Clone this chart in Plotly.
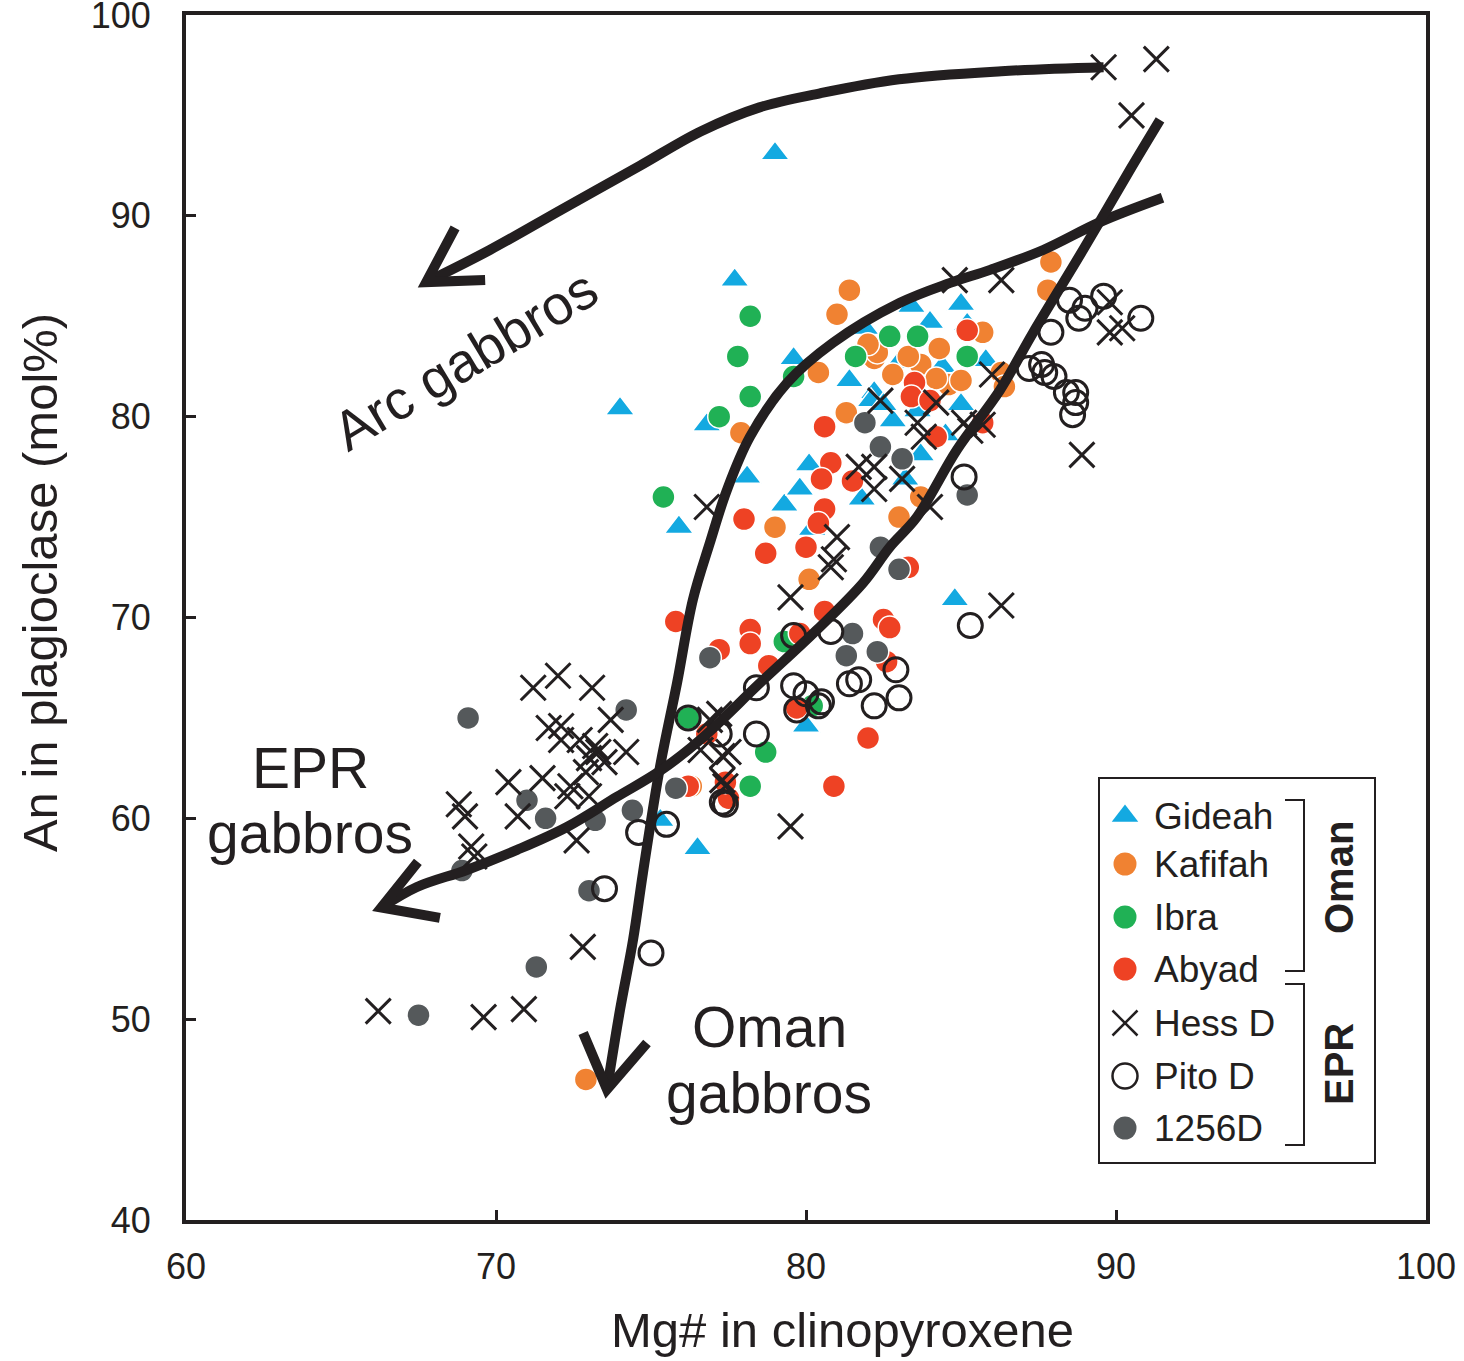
import plotly.graph_objects as go

# ---------------- data (Mg# cpx, An plag) ----------------
gideah_x = [79.0, 77.7, 74.0, 75.9, 76.5, 84.8, 80.0, 75.3, 76.8, 78.1, 79.3, 79.8, 80.1, 79.6, 81.4, 81.8,
            81.9, 83.4, 84.0, 85.0, 85.8, 85.0, 83.7, 83.2, 82.2, 83.0, 82.8, 84.4, 85.2, 82.1, 82.5, 83.6, 84.5, 80.2]
gideah_y = [93.1, 86.8, 80.4, 74.5, 58.5, 70.9, 64.6, 59.9, 79.6, 77.0, 75.6, 76.4, 77.6, 82.9, 81.8, 75.9,
            84.4, 85.5, 84.7, 85.6, 82.8, 80.6, 78.1, 76.9, 81.2, 82.7, 79.8, 82.5, 84.6, 80.8, 80.6, 80.3, 79.1, 74.4]

kafifah_x = [81.4, 81.0, 77.9, 79.0, 80.1, 72.9, 87.9, 87.8, 86.3, 86.4, 85.7, 80.4, 81.3, 83.0, 83.7, 76.3,
             82.2, 82.8, 83.7, 84.3, 84.6, 84.2, 85.0, 82.3, 83.3, 82.0]
kafifah_y = [86.3, 85.1, 79.2, 74.5, 71.9, 47.0, 87.7, 86.3, 82.2, 81.5, 84.2, 82.2, 80.2, 75.0, 76.0, 61.6,
             82.9, 82.1, 82.6, 83.4, 81.6, 81.9, 81.8, 83.2, 83.0, 83.6]

ibra_x = [78.2, 77.8, 78.2, 77.2, 75.4, 79.6, 81.6, 82.7, 83.6, 85.2, 76.2, 78.7, 78.2, 79.3, 80.2]
ibra_y = [85.0, 83.0, 81.0, 80.0, 76.0, 82.0, 83.0, 84.0, 84.0, 83.0, 65.0, 63.3, 61.6, 68.8, 65.6]

abyad_x = [85.2, 83.5, 83.4, 84.0, 84.2, 81.5, 80.6, 80.8, 80.5, 80.6, 80.4, 80.0, 78.0, 78.7, 75.8, 78.2,
           78.2, 77.2, 78.8, 79.8, 80.6, 82.5, 82.7, 83.3, 82.6, 82.0, 80.9, 76.2, 77.5, 79.7, 76.8, 85.7, 77.4]
abyad_y = [84.3, 81.7, 81.0, 80.8, 79.0, 76.8, 79.5, 77.7, 76.9, 75.4, 74.7, 73.5, 74.9, 73.2, 69.8, 69.4,
           68.7, 68.4, 67.6, 69.2, 70.3, 69.9, 69.5, 72.5, 67.8, 64.0, 61.6, 61.6, 61.0, 65.5, 64.2, 79.7, 61.8]

d1256_x = [69.1, 74.2, 76.9, 81.9, 82.4, 83.1, 85.2, 82.4, 83.0, 81.5, 81.3, 82.3, 75.8, 74.4, 71.6, 71.0,
           73.2, 73.0, 71.3, 67.5, 68.9]
d1256_y = [65.0, 65.4, 68.0, 79.7, 78.5, 77.9, 76.1, 73.5, 72.4, 69.2, 68.1, 68.3, 61.5, 60.4, 60.0, 60.9,
           59.9, 56.4, 52.6, 50.2, 57.4]

pito_x = [89.6, 90.8, 88.8, 87.9, 87.2, 87.6, 87.7, 88.0, 88.4, 88.7, 88.7, 88.6, 88.5, 89.0, 85.1, 85.3,
          79.6, 80.8, 78.4, 79.6, 80.0, 80.5, 80.4, 79.7, 81.4, 81.7, 82.9, 83.0, 82.2, 76.2, 77.2, 78.4,
          74.6, 75.5, 77.3, 73.5, 75.0, 77.4]
pito_y = [86.0, 84.9, 84.9, 84.2, 82.4, 82.6, 82.2, 82.0, 81.2, 81.2, 80.7, 80.1, 85.8, 85.4, 77.0, 69.6,
          69.1, 69.3, 66.5, 66.6, 66.2, 65.8, 65.6, 65.4, 66.7, 66.9, 67.4, 66.0, 65.6, 65.0, 64.2, 64.2,
          59.3, 59.7, 60.8, 56.5, 53.3, 60.7]

hess_x = [89.6, 91.3, 90.5, 84.8, 86.3, 89.8, 89.8, 90.2, 88.9, 86.0, 85.7, 85.3, 82.4, 83.6, 84.2, 83.8,
          85.1, 81.7, 82.2, 82.2, 83.1, 84.0, 76.8, 81.0, 80.9, 80.8, 79.5, 86.3, 77.2, 76.9, 77.5, 77.3,
          77.4, 79.5, 72.0, 73.1, 73.7, 72.1, 72.7, 73.3, 74.2, 72.1, 72.9, 72.4, 73.0, 72.6, 76.6, 77.3,
          71.2, 71.7, 70.4, 71.5, 72.3, 70.7, 68.8, 69.0, 69.2, 69.3, 66.2, 69.6, 70.9, 72.8, 73.0, 73.5, 73.2]
hess_y = [97.4, 97.8, 95.0, 86.8, 86.8, 85.7, 84.2, 84.4, 78.1, 82.1, 79.6, 79.3, 80.8, 79.7, 80.7, 79.0,
          79.7, 77.5, 77.5, 76.4, 76.9, 75.5, 75.5, 74.0, 72.9, 72.5, 71.0, 70.6, 65.2, 64.9, 63.3, 61.9,
          61.6, 59.6, 67.1, 66.5, 64.9, 64.6, 63.9, 63.3, 63.3, 63.9, 62.3, 61.6, 61.1, 58.9, 63.4, 63.1,
          66.5, 64.5, 61.8, 62.0, 61.1, 60.1, 60.7, 60.1, 58.6, 58.1, 50.4, 50.1, 50.5, 53.6, 63.0, 62.8, 63.6]

# ---------------- trend arrows (hand-drawn guides) ----------------
arc_x = [89.6, 86.3, 83.0, 80.45, 78.5, 76.6, 74.65, 72.1, 69.8, 67.75]
arc_y = [97.4, 97.2, 96.8, 96.1, 95.4, 94.2, 92.5, 90.3, 88.3, 86.7]
arc_head_x = [68.68, 67.75, 69.65]
arc_head_y = [89.4, 86.7, 86.8]

oman_x = [91.5, 89.5, 87.65, 85.94, 84.65, 83.03, 80.87, 79.39, 78.19, 77.45, 76.9, 76.35, 75.84, 75.29,
          74.74, 74.42, 74.0, 73.58]
oman_y = [90.9, 89.7, 88.3, 87.31, 86.66, 85.67, 83.68, 81.68, 78.99, 76.35, 73.72, 70.88, 66.74, 62.56,
          57.28, 53.94, 50.46, 46.5]
oman_head_x = [72.81, 73.58, 74.87]
oman_head_y = [49.31, 46.5, 48.81]

epr_x = [91.42, 90.45, 88.94, 87.32, 86.26, 84.87, 83.58, 82.71, 81.84, 80.35, 78.52, 76.58, 75.29, 73.9,
         72.29, 70.68, 69.06, 67.45, 66.3]
epr_y = [94.78, 92.29, 88.31, 84.17, 81.33, 78.35, 75.01, 73.52, 71.72, 69.38, 66.74, 63.9, 62.36, 61.07,
         59.57, 58.43, 57.43, 56.58, 55.56]
epr_head_x = [67.48, 66.3, 68.19]
epr_head_y = [57.83, 55.56, 55.04]

INK = "#231f20"
FONT = "Arial, 'Liberation Sans', sans-serif"
C_GID, C_KAF, C_IBR, C_ABY, C_125 = "#13a9e1", "#f08232", "#20b155", "#ee4224", "#55595b"

fig = go.Figure()

def filled(x, y, color, symbol, size, name):
    fig.add_trace(go.Scatter(x=x, y=y, mode="markers", name=name, showlegend=False,
                             marker=dict(symbol=symbol, size=size, color=color,
                                         line=dict(color="white", width=1.5))))

filled(gideah_x, gideah_y, C_GID, "triangle-up", 25, "Gideah")
filled(kafifah_x, kafifah_y, C_KAF, "circle", 23, "Kafifah")
filled(ibra_x, ibra_y, C_IBR, "circle", 23, "Ibra")
filled(abyad_x, abyad_y, C_ABY, "circle", 23, "Abyad")
filled(d1256_x, d1256_y, C_125, "circle", 23, "1256D")
fig.add_trace(go.Scatter(x=pito_x, y=pito_y, mode="markers", name="Pito D", showlegend=False,
                         marker=dict(symbol="circle-open", size=24, color=INK, line=dict(color=INK, width=3))))
fig.add_trace(go.Scatter(x=hess_x, y=hess_y, mode="markers", name="Hess D", showlegend=False,
                         marker=dict(symbol="x-thin-open", size=25, color=INK, line=dict(color=INK, width=3))))

for cx, cy, shape in [(arc_x, arc_y, "spline"), (oman_x, oman_y, "spline"), (epr_x, epr_y, "spline"),
                      (arc_head_x, arc_head_y, "linear"), (oman_head_x, oman_head_y, "linear"),
                      (epr_head_x, epr_head_y, "linear")]:
    fig.add_trace(go.Scatter(x=cx, y=cy, mode="lines", showlegend=False, hoverinfo="skip",
                             line=dict(color=INK, width=10, shape=shape)))

# ---------------- custom legend in pixel space (x2/y2) ----------------
leg_rows = [816, 864, 917, 969, 1023, 1076, 1128]
leg_names = ["Gideah", "Kafifah", "Ibra", "Abyad", "Hess D", "Pito D", "1256D"]
leg_sym = ["triangle-up", "circle", "circle", "circle", "x-thin-open", "circle-open", "circle"]
leg_col = [C_GID, C_KAF, C_IBR, C_ABY, INK, INK, C_125]
for yy, sym, col in zip(leg_rows, leg_sym, leg_col):
    open_m = sym.endswith("open")
    fig.add_trace(go.Scatter(x=[1125], y=[yy], xaxis="x2", yaxis="y2", mode="markers", showlegend=False,
                             hoverinfo="skip",
                             marker=dict(symbol=sym, size=23 if not open_m else 25, color=col,
                                         line=dict(color=INK if open_m else col, width=2.5 if open_m else 0))))

annotations = []
for yy, nm in zip(leg_rows, leg_names):
    annotations.append(dict(x=1152, y=yy, xref="x2", yref="y2", text=nm, showarrow=False, xanchor="left",
                             yanchor="middle", font=dict(family=FONT, size=37, color=INK)))
annotations.append(dict(x=1339, y=878, xref="x2", yref="y2", text="<b>Oman</b>", showarrow=False, textangle=-90,
                        xanchor="center", yanchor="middle", font=dict(family=FONT, size=40, color=INK)))
annotations.append(dict(x=1339, y=1064, xref="x2", yref="y2", text="<b>EPR</b>", showarrow=False, textangle=-90,
                        xanchor="center", yanchor="middle", font=dict(family=FONT, size=40, color=INK)))

shapes = [
    dict(type="rect", xref="x2", yref="y2", x0=1099, x1=1375, y0=778, y1=1163, line=dict(color=INK, width=2)),
    dict(type="path", xref="x2", yref="y2", path="M 1285 800 L 1304 800 L 1304 971 L 1285 971",
         line=dict(color=INK, width=2)),
    dict(type="path", xref="x2", yref="y2", path="M 1285 984 L 1304 984 L 1304 1145 L 1285 1145",
         line=dict(color=INK, width=2)),
]

# plot annotations
annotations += [
    dict(x=465, y=360, xref="x2", yref="y2", text="Arc gabbros", showarrow=False, textangle=-31,
         xanchor="center", yanchor="middle", font=dict(family=FONT, size=55, color=INK)),
    dict(x=310, y=768, xref="x2", yref="y2", text="EPR", showarrow=False,
         xanchor="center", yanchor="middle", font=dict(family=FONT, size=57, color=INK)),
    dict(x=310, y=833, xref="x2", yref="y2", text="gabbros", showarrow=False,
         xanchor="center", yanchor="middle", font=dict(family=FONT, size=57, color=INK)),
    dict(x=769, y=1027, xref="x2", yref="y2", text="Oman", showarrow=False,
         xanchor="center", yanchor="middle", font=dict(family=FONT, size=57, color=INK)),
    dict(x=769, y=1093, xref="x2", yref="y2", text="gabbros", showarrow=False,
         xanchor="center", yanchor="middle", font=dict(family=FONT, size=57, color=INK)),
    dict(x=0.5298, y=-0.0913, xref="paper", yref="paper", text="Mg# in clinopyroxene", showarrow=False,
         xanchor="center", yanchor="middle", font=dict(family=FONT, size=49, color=INK)),
    dict(x=-0.1177, y=0.5286, xref="paper", yref="paper", text="An in plagioclase (mol%)", showarrow=False,
         xanchor="center", yanchor="middle", textangle=-90, font=dict(family=FONT, size=49, color=INK)),
]

fig.update_layout(
    width=1464, height=1361, margin=dict(l=186, r=38, t=15, b=141, autoexpand=False),
    paper_bgcolor="white", plot_bgcolor="white",
    font=dict(family=FONT, color=INK),
    xaxis=dict(range=[60, 100], tickvals=[60, 70, 80, 90, 100], ticks="inside", ticklen=10, tickwidth=3,
               tickcolor=INK, showline=True, linecolor=INK, linewidth=4, mirror=True, showgrid=False,
               zeroline=False, tickfont=dict(family=FONT, size=36, color=INK), ticklabelstandoff=12,
               ticklabeloverflow="allow", automargin=False),
    yaxis=dict(range=[40, 100], tickvals=[40, 50, 60, 70, 80, 90, 100], ticks="inside", ticklen=10, tickwidth=3,
               tickcolor=INK, showline=True, linecolor=INK, linewidth=4, mirror=True, showgrid=False,
               zeroline=False, tickfont=dict(family=FONT, size=36, color=INK), ticklabelstandoff=24,
               ticklabeloverflow="allow", automargin=False),
    xaxis2=dict(range=[186, 1426], overlaying="x", anchor="y2", visible=False, fixedrange=True, automargin=False),
    yaxis2=dict(range=[1220, 15], overlaying="y", anchor="x2", visible=False, fixedrange=True, automargin=False),
    annotations=annotations, shapes=shapes,
)

fig.write_html("out.html")
